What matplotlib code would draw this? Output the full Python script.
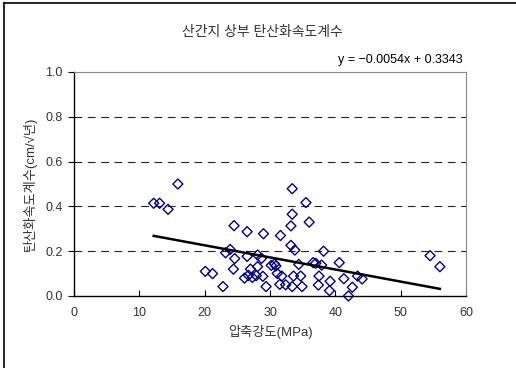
import numpy as np
import matplotlib
matplotlib.use("Agg")
import matplotlib.pyplot as plt
from matplotlib.lines import Line2D

plt.rcParams['font.family'] = ['Liberation Sans', 'Noto Sans CJK KR']
plt.rcParams['axes.unicode_minus'] = True

# compressive strength (MPa) vs carbonation rate coefficient (cm/sqrt(yr))
strength = [
    12.2, 13.1, 14.4, 15.9, 20.1, 21.2, 22.8, 23.2, 23.9, 24.5,
    24.6, 24.4, 26.1, 26.5, 26.5, 26.7, 27.0, 27.3, 27.9, 28.1,
    28.1, 28.7, 28.9, 29.0, 29.4, 30.2, 30.7, 30.9, 31.1, 31.5,
    31.6, 31.8, 32.4, 33.2, 33.2, 33.4, 33.4, 33.6, 33.8, 33.4,
    34.4, 34.7, 34.9, 35.5, 36.0, 36.6, 37.0, 37.5, 37.4, 37.9,
    38.2, 39.2, 39.1, 40.6, 41.3, 42.6, 42.0, 43.4, 44.1, 54.5,
    56.0,
]
coef = [
    0.414, 0.414, 0.387, 0.500, 0.110, 0.100, 0.042, 0.193, 0.208, 0.314,
    0.167, 0.120, 0.080, 0.287, 0.177, 0.092, 0.120, 0.083, 0.091, 0.183,
    0.131, 0.168, 0.088, 0.278, 0.042, 0.137, 0.143, 0.134, 0.101, 0.052,
    0.270, 0.089, 0.050, 0.226, 0.313, 0.365, 0.479, 0.089, 0.205, 0.042,
    0.141, 0.089, 0.042, 0.417, 0.330, 0.149, 0.146, 0.089, 0.049, 0.138,
    0.200, 0.066, 0.024, 0.149, 0.077, 0.039, 0.000, 0.089, 0.076, 0.180,
    0.131,
]
slope, intercept = -0.0054, 0.3343

TITLE = "산간지 상부 탄산화속도계수"
XLABEL = "압축강도(MPa)"
YLABEL = "탄산화속도계수(cm/√년)"
EQN = "y = −0.0054x + 0.3343"

W, H = 516, 368
fig = plt.figure(figsize=(W / 100, H / 100), dpi=100)
ax = fig.add_axes([74 / W, 1 - 296 / H, 392 / W, 224 / H])

text_c = "#333333"
for yv in [0.2, 0.4, 0.6, 0.8]:
    ax.axhline(yv, color="#222222", linewidth=0.8, linestyle=(0, (7, 5)), zorder=1)

ax.scatter(strength, coef, marker="D", s=26, facecolors="none",
           edgecolors="#00008b", linewidths=1.0, zorder=3, clip_on=False)

xs = np.array([min(strength), max(strength)])
ax.plot(xs, slope * xs + intercept, color="black", linewidth=1.8, zorder=4)

ax.set_xlim(0, 60)
ax.set_ylim(0, 1.0)
ax.set_xticks(range(0, 61, 10))
ax.set_yticks(np.arange(0, 1.01, 0.2))
ax.set_yticklabels([f"{v:.1f}" for v in np.arange(0, 1.01, 0.2)])
ax.tick_params(axis="x", direction="in", length=4, labelsize=9, colors="black",
               labelcolor=text_c, pad=8)
ax.tick_params(axis="y", direction="out", length=4, labelsize=9, colors="black",
               labelcolor=text_c, pad=4)

for s in ["left", "bottom"]:
    ax.spines[s].set_color("black")
    ax.spines[s].set_linewidth(1.0)
for s in ["top", "right"]:
    ax.spines[s].set_color("#888888")
    ax.spines[s].set_linewidth(0.8)

ax.set_xlabel(XLABEL, fontsize=9.5, color=text_c, labelpad=4)
ax.set_ylabel(YLABEL, fontsize=9.5, color=text_c, labelpad=6)

fig.text(262 / W, 1 - 32 / H, TITLE, ha="center", va="center",
         fontsize=10, color=text_c)
fig.text(463 / W, 1 - 60 / H, EQN, ha="right", va="center",
         fontsize=9, color="black")

# outer frame (left and top edges visible)
fig.add_artist(Line2D([4 / W, 4 / W], [0, 1 - 3 / H], transform=fig.transFigure,
                      color="black", linewidth=1.2))
fig.add_artist(Line2D([4 / W, 1], [1 - 3 / H, 1 - 3 / H], transform=fig.transFigure,
                      color="black", linewidth=1.2))

fig.savefig("out.png", dpi=100)
plt.close(fig)
